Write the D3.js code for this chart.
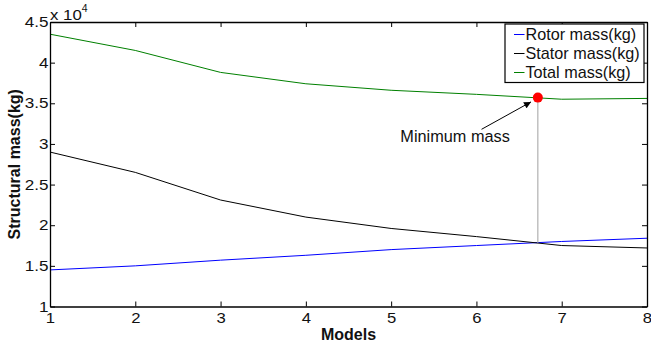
<!DOCTYPE html>
<html>
<head>
<meta charset="utf-8">
<script src="https://cdn.jsdelivr.net/npm/d3@7"></script>
<style>
  html, body { margin: 0; padding: 0; background: #fff; }
  svg { display: block; font-family: "Liberation Sans", Arial, Helvetica, sans-serif; }
</style>
</head>
<body>
<svg id="chart" width="651" height="349"></svg>
<script>
// Structural mass per model (kg)
const models = [1, 2, 3, 4, 5, 6, 7, 8];
const rotorMass  = [14500, 15000, 15700, 16300, 17000, 17500, 18000, 18400];
const statorMass = [29000, 26500, 23100, 21000, 19600, 18600, 17500, 17200];
const totalMass  = [43500, 41500, 38800, 37400, 36600, 36100, 35500, 35600];

// Minimum-mass marker and annotation (data coordinates)
const minPoint   = { x: 6.72, y: 35700, crossY: 17850 };
const arrowFrom  = { x: 6.06, y: 31800 };
const arrowTo    = { x: 6.64, y: 35170 };
const noteAt     = { x: 5.75, y: 30250, text: "Minimum mass" };

const xTicks = [1, 2, 3, 4, 5, 6, 7, 8];
const yTicks = [10000, 15000, 20000, 25000, 30000, 35000, 40000, 45000];

const seriesList = [
  { name: "Rotor mass(kg)",  values: rotorMass,  color: "#0000ff" },
  { name: "Stator mass(kg)", values: statorMass, color: "#000000" },
  { name: "Total mass(kg)",  values: totalMass,  color: "#008000" }
];

const svg = d3.select("#chart");
const m = { left: 50, right: 4, top: 22, bottom: 42.5 };
const W = 651, H = 349;
const x = d3.scaleLinear().domain([1, 8]).range([m.left, W - m.right]);
const y = d3.scaleLinear().domain([10000, 45000]).range([H - m.bottom, m.top]);

const fmtY = d => String(d / 10000);

// Stretch text horizontally by a factor while keeping its anchor
function widen(sel, factor) {
  sel.each(function () {
    const len = this.getComputedTextLength();
    if (len > 0) {
      d3.select(this).attr("textLength", len * factor).attr("lengthAdjust", "spacingAndGlyphs");
    }
  });
}

// Data lines
const line = d3.line().x((d, i) => x(models[i])).y(d => y(d));
const plot = svg.append("g");
seriesList.forEach(s => {
  plot.append("path")
    .datum(s.values)
    .attr("fill", "none")
    .attr("stroke", s.color)
    .attr("stroke-width", 1)
    .attr("d", line);
});

// Vertical drop line from the minimum to the rotor/stator crossing
plot.append("line")
  .attr("x1", x(minPoint.x)).attr("x2", x(minPoint.x))
  .attr("y1", y(minPoint.y)).attr("y2", y(minPoint.crossY))
  .attr("stroke", "#b0b0b0").attr("stroke-width", 1.2);

plot.append("circle")
  .attr("cx", x(minPoint.x)).attr("cy", y(minPoint.y))
  .attr("r", 5).attr("fill", "#ff0000");

// Annotation arrow
svg.append("defs").append("marker")
  .attr("id", "arrowhead")
  .attr("viewBox", "0 0 10 10")
  .attr("refX", 10).attr("refY", 5)
  .attr("markerWidth", 9).attr("markerHeight", 7)
  .attr("markerUnits", "userSpaceOnUse")
  .attr("orient", "auto")
  .append("path").attr("d", "M0,0 L10,5 L0,10 z").attr("fill", "#000");

svg.append("line")
  .attr("x1", x(arrowFrom.x)).attr("y1", y(arrowFrom.y))
  .attr("x2", x(arrowTo.x)).attr("y2", y(arrowTo.y))
  .attr("stroke", "#000").attr("stroke-width", 1)
  .attr("marker-end", "url(#arrowhead)");

svg.append("text")
  .attr("x", x(noteAt.x)).attr("y", y(noteAt.y))
  .attr("text-anchor", "middle")
  .attr("font-size", 16.3)
  .attr("fill", "#111")
  .text(noteAt.text);

// Axes with inward ticks on all four sides
const tickLen = 5;
const axB = svg.append("g").attr("transform", `translate(0,${y(10000)})`)
  .call(d3.axisBottom(x).tickValues(xTicks).tickSizeInner(-tickLen).tickSizeOuter(0).tickPadding(6).tickFormat(d3.format("d")));
const axT = svg.append("g").attr("transform", `translate(0,${y(45000)})`)
  .call(d3.axisTop(x).tickValues(xTicks).tickSizeInner(-tickLen).tickSizeOuter(0).tickFormat(""));
const axL = svg.append("g").attr("transform", `translate(${x(1)},0)`)
  .call(d3.axisLeft(y).tickValues(yTicks).tickSizeInner(-tickLen).tickSizeOuter(0).tickPadding(1.5).tickFormat(fmtY));
const axR = svg.append("g").attr("transform", `translate(${x(8)},0)`)
  .call(d3.axisRight(y).tickValues(yTicks).tickSizeInner(-tickLen).tickSizeOuter(0).tickFormat(""));

[axB, axT, axL, axR].forEach(g => {
  g.select(".domain").attr("stroke", "#000").attr("stroke-width", 1.3);
  g.selectAll(".tick line").attr("stroke", "#000");
  g.selectAll("text").attr("font-size", 14.5).attr("fill", "#111")
    .attr("font-family", "'Liberation Sans', Arial, sans-serif");
});
axB.selectAll(".tick text").attr("dy", "0.71em");
widen(axB.selectAll(".tick text"), 1.15);
widen(axL.selectAll(".tick text"), 1.18);

// Exponent label
const expo = svg.append("text").attr("x", x(1)).attr("y", 19.5)
  .attr("font-size", 15).attr("fill", "#111");
const expoBase = expo.append("tspan").text("x 10");
expo.append("tspan").attr("font-size", 10.5).attr("dy", -8).text("4");
widen(expoBase, 1.12);

// Axis titles
svg.append("text")
  .attr("x", (x(1) + x(8)) / 2).attr("y", 340)
  .attr("text-anchor", "middle")
  .attr("font-size", 16).attr("font-weight", "bold").attr("fill", "#111")
  .text("Models");

svg.append("text")
  .attr("transform", `translate(19.5,${(y(10000) + y(45000)) / 2}) rotate(-90)`)
  .attr("text-anchor", "middle")
  .attr("font-size", 16).attr("font-weight", "bold").attr("fill", "#111")
  .text("Structural mass(kg)");

// Legend
const lg = svg.append("g").attr("transform", "translate(505,24)");
lg.append("rect").attr("width", 139).attr("height", 58.5)
  .attr("fill", "#fff").attr("stroke", "#000").attr("stroke-width", 1.2);
seriesList.forEach((s, i) => {
  const cy = 10.5 + i * 19;
  lg.append("line").attr("x1", 9).attr("x2", 19.5).attr("y1", cy).attr("y2", cy)
    .attr("stroke", s.color).attr("stroke-width", 1);
  lg.append("text").attr("x", 20.5).attr("y", cy + 5.8)
    .attr("font-size", 16.2).attr("fill", "#111").text(s.name);
});
</script>
</body>
</html>
